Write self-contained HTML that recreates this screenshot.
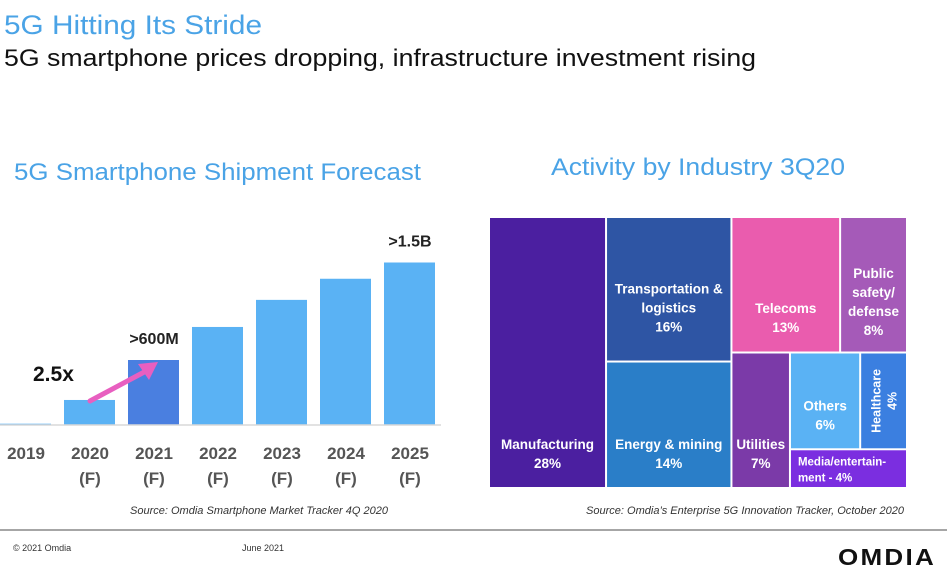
<!DOCTYPE html>
<html><head><meta charset="utf-8"><style>
html,body{margin:0;padding:0;background:#fff;width:947px;height:578px;overflow:hidden}
svg{display:block;font-family:"Liberation Sans",sans-serif}
</style></head><body>
<svg id="page" width="947" height="578" viewBox="0 0 947 578">
<text x="4" y="34" font-size="27" fill="#4aa3e6" textLength="258" lengthAdjust="spacingAndGlyphs">5G Hitting Its Stride</text>
<text x="4" y="66" font-size="24" fill="#111" textLength="752" lengthAdjust="spacingAndGlyphs">5G smartphone prices dropping, infrastructure investment rising</text>
<text x="14" y="180" font-size="24" fill="#4aa3e6" textLength="407" lengthAdjust="spacingAndGlyphs">5G Smartphone Shipment Forecast</text>
<text x="551" y="175" font-size="24" fill="#4aa3e6" textLength="294" lengthAdjust="spacingAndGlyphs">Activity by Industry 3Q20</text>
<g id="bars"></g>
<g id="tree"></g>
<text x="130" y="514" font-size="11" font-style="italic" fill="#333" textLength="258" lengthAdjust="spacingAndGlyphs">Source: Omdia Smartphone Market Tracker 4Q 2020</text>
<text x="586" y="514" font-size="11" font-style="italic" fill="#333" textLength="318" lengthAdjust="spacingAndGlyphs">Source: Omdia’s Enterprise 5G Innovation Tracker, October 2020</text>
<line x1="0" y1="530" x2="947" y2="530" stroke="#888" stroke-width="1.5"/>
<text x="13" y="551" font-size="9" fill="#333">© 2021 Omdia</text>
<text x="242" y="551" font-size="9" fill="#333">June 2021</text>
<text x="838" y="565" font-size="23" font-weight="bold" fill="#111" textLength="98" lengthAdjust="spacingAndGlyphs" letter-spacing="2">OMDIA</text>
</svg>
<script>
const years=["2019","2020","2021","2022","2023","2024","2025"];
const forecastFlags=["","(F)","(F)","(F)","(F)","(F)","(F)"];
const shipments=[12,231,600,905,1155,1350,1500];
const valueLabels={"2021":">600M","2025":">1.5B"};
const industries=["Manufacturing","Transportation & logistics","Energy & mining","Telecoms","Public safety/ defense","Utilities","Others","Healthcare","Media/entertain- ment"];
const shares=[28,16,14,13,8,7,6,4,4];
const NS="http://www.w3.org/2000/svg";
function mk(p,t,a){const e=document.createElementNS(NS,t);for(const k in a)e.setAttribute(k,a[k]);p.appendChild(e);return e;}
const bars=document.getElementById('bars');
const base=425, pxPerM=162.5/1500;
const y=v=>base-v*pxPerM;
const x=i=>i*64;
years.forEach((yr,i)=>{
  const r=mk(bars,'rect',{x:x(i),y:y(shipments[i]),width:51,height:base-y(shipments[i]),fill:yr==="2021"?"#4a7fe0":"#5ab2f4"});
  
  
  const t=mk(bars,'text',{x:x(i)+26,y:459,'font-size':17,'font-weight':'bold',fill:'#555','text-anchor':'middle'});t.textContent=yr;
  
  
  if(forecastFlags[i]){const f=mk(bars,'text',{x:x(i)+26,y:484,'font-size':17,'font-weight':'bold',fill:'#555','text-anchor':'middle'});f.textContent=forecastFlags[i];
  
  }
  if(valueLabels[yr]){const v=mk(bars,'text',{x:x(i)+26,y:y(shipments[i])-16,'font-size':16,'font-weight':'bold',fill:'#222','text-anchor':'middle'});v.textContent=valueLabels[yr];
  
  }
});
const ax=mk(bars,'line',{x1:0,y1:base,x2:441,y2:base,stroke:'#d8d8d8','stroke-width':1.5});


const gt=mk(bars,'text',{x:33,y:381,'font-size':21,'font-weight':'bold',fill:'#111'});gt.textContent='2.5x';


const ar=mk(bars,'g',{});


mk(ar,'line',{x1:90,y1:401,x2:148,y2:370,stroke:'#e85fc0','stroke-width':5,'stroke-linecap':'round'});
mk(ar,'polygon',{points:'158,362 138,364 149,380',fill:'#e85fc0'});
const tree=document.getElementById('tree');
const L=489,T=217,R=907,B=488,W=R-L,H=B-T,total=shares.reduce((a,b)=>a+b,0);
const colors=["#4b1fa0","#2e55a4","#2a7ec8","#ea5cae","#a55ab8","#7b3aa8","#5ab2f4","#3b7fe0","#7b2ee0"];
const cells=[];
let cx=L;
const wM=W*shares[0]/total; cells.push([cx,T,wM,H]); cx+=wM;
const g2=shares[1]+shares[2], w2=W*g2/total;
const h1=H*shares[1]/g2; cells.push([cx,T,w2,h1]); cells.push([cx,T+h1,w2,H-h1]); cx+=w2;
const w3=R-cx, rest=total-shares[0]-g2;
const hTop=H*(shares[3]+shares[4])/rest;
const wTel=w3*shares[3]/(shares[3]+shares[4]);
cells.push([cx,T,wTel,hTop]); cells.push([cx+wTel,T,w3-wTel,hTop]);
const bh=H-hTop, brest=shares[5]+shares[6]+shares[7]+shares[8];
const wU=w3*shares[5]/brest; cells.push([cx,T+hTop,wU,bh]);
const ox=cx+wU, ow=R-ox, og=shares[6]+shares[7]+shares[8];
const hMed=bh*shares[8]/og, hO=bh-hMed;
const wO=ow*shares[6]/(shares[6]+shares[7]);
cells.push([ox,T+hTop,wO,hO]); cells.push([ox+wO,T+hTop,ow-wO,hO]); cells.push([ox,T+hTop+hO,ow,hMed]);
const labels=[
 [["Manufacturing","28%"],'bl'],[["Transportation &","logistics","16%"],'c'],[["Energy & mining","14%"],'bl'],
 [["Telecoms","13%"],'tl'],[["Public","safety/","defense","8%"],'c'],[["Utilities","7%"],'bl'],
 [["Others","6%"],'bl'],[["Healthcare","4%"],'rot'],[["Media/entertain-","ment - 4%"],'m']];
cells.forEach((c,i)=>{
  const g=mk(tree,'g',{});
  
  
  mk(g,'rect',{x:c[0]+1,y:c[1]+1,width:c[2]-2,height:c[3]-2,fill:colors[i]});
  const [lines,mode]=labels[i];
  const fs=i===8?11.5:13.5, lh=fs*1.4;
  let sx=c[0]+c[2]/2, sy, anchor='middle';
  if(mode==='c') sy=c[1]+c[3]*0.66-(lines.length-1)*lh/2;
  else if(mode==='tl') sy=c[1]+c[3]*0.78-(lines.length-1)*lh/2;
  else if(mode==='bl') sy=c[1]+c[3]-26-(lines.length-1)*lh+6;
  else if(mode==='m'){sx=c[0]+8;anchor='start';sy=c[1]+16;}
  if(mode==='rot'){
    const t=mk(g,'text',{transform:`translate(${sx},${c[1]+c[3]/2}) rotate(-90)`,'font-size':12.5,'font-weight':'bold',fill:'#fff','text-anchor':'middle'});
    mk(t,'tspan',{x:0,y:-3}).textContent=lines[0];
    mk(t,'tspan',{x:0,y:13}).textContent=lines[1];
  } else {
    const t=mk(g,'text',{'font-size':fs,'font-weight':'bold',fill:'#fff','text-anchor':anchor});
    lines.forEach((l,j)=>{mk(t,'tspan',{x:sx,y:sy+j*lh}).textContent=l;});
  }
});
</script>
</body></html>
